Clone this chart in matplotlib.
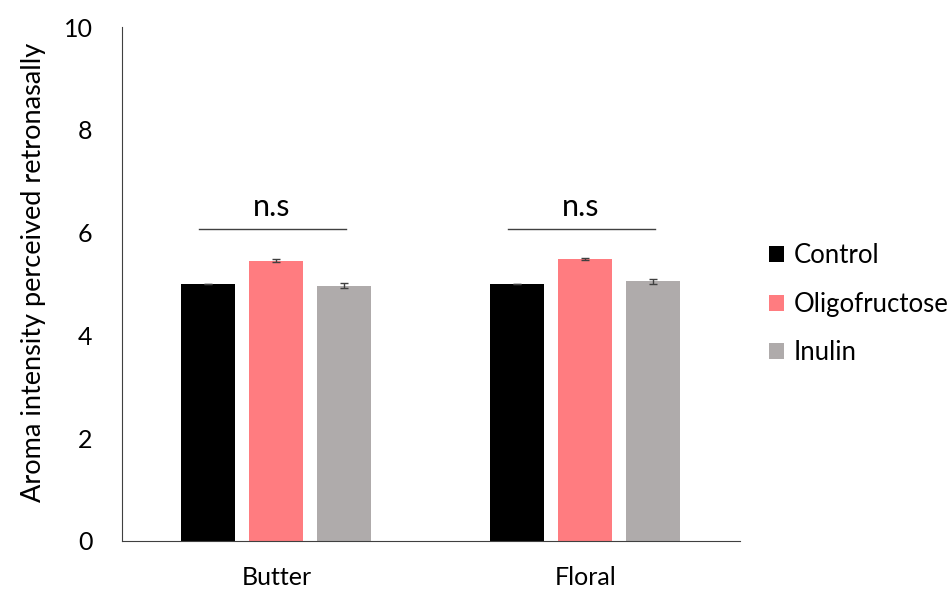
import matplotlib
matplotlib.use("Agg")
import matplotlib.pyplot as plt
import numpy as np

categories = ["Butter", "Floral"]
series = ["Control", "Oligofructose", "Inulin"]
control = [5.00, 5.00]
oligofructose = [5.45, 5.49]
inulin = [4.97, 5.05]
control_err = [0.0, 0.0]
oligofructose_err = [0.03, 0.02]
inulin_err = [0.05, 0.04]
ns_level = 6.07
ns_labels = ["n.s", "n.s"]

colors = ["#000000", "#FF7C80", "#AFABAB"]

plt.rcParams['font.family'] = ['Lato', 'DejaVu Sans']

fig = plt.figure(figsize=(9.52, 5.89), dpi=100)
ax = fig.add_axes([0.128, 0.0815, 0.649, 0.8725])

x = np.arange(len(categories))
width = 0.175
step = 0.22
values = [control, oligofructose, inulin]
errs = [control_err, oligofructose_err, inulin_err]
for i, (vals, err, name, c) in enumerate(zip(values, errs, series, colors)):
    ax.bar(x + (i - 1) * step, vals, width, color=c, label=name,
           yerr=err, error_kw=dict(ecolor="#404040", elinewidth=1, capsize=3, capthick=1))

for xi, lab in zip(x, ns_labels):
    ax.plot([xi - 0.25, xi + 0.225], [ns_level, ns_level], color="#404040", lw=1)
    ax.text(xi - 0.015, ns_level + 0.16, lab, ha="center", va="bottom", fontsize=22)

ax.set_xlim(-0.5, 1.5)
ax.set_ylim(0, 10)
ax.set_yticks([0, 2, 4, 6, 8, 10])
ax.set_xticks(x)
ax.set_xticklabels(categories, fontsize=18)
ax.tick_params(axis="y", labelsize=18, length=0, pad=21)
ax.tick_params(axis="x", length=0, pad=18)
ax.spines["top"].set_visible(False)
ax.spines["right"].set_visible(False)
ax.spines["left"].set_color("#404040")
ax.spines["bottom"].set_color("#404040")
ax.set_ylabel("Aroma intensity perceived retronasally", fontsize=19.5, labelpad=8)
ax.yaxis.set_label_coords(-0.123, 0.523)

ax.legend(loc="center left", bbox_to_anchor=(1.018, 0.461), frameon=False,
          fontsize=18.5, handlelength=0.58, handleheight=0.58, handletextpad=0.38,
          labelspacing=0.92, borderaxespad=0.3)

fig.savefig("out.png", dpi=100)
